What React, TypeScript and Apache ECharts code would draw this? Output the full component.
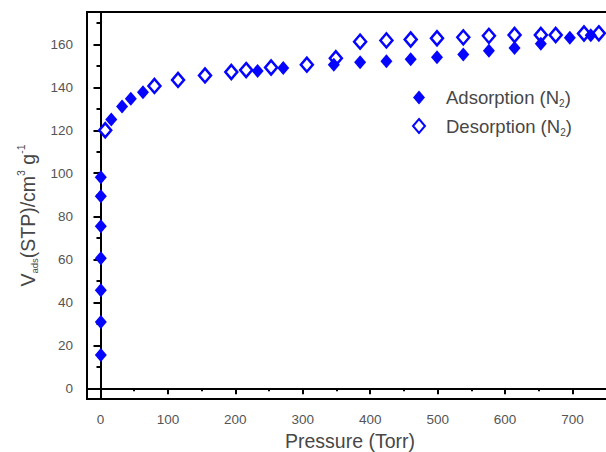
import React, { useEffect, useRef } from "react";
import * as echarts from "echarts";

const adsP = [0.5, 0.5, 0.5, 0.5, 0.5, 0.5, 0.5, 16, 32, 45, 63, 233, 271, 346, 385, 424, 460, 499, 538, 576, 614, 653, 696, 727];
const adsV = [15.5, 30.8, 45.6, 60.5, 75.3, 89.3, 98.1, 125, 131, 134.7, 137.7, 147.6, 148.9, 150.5, 151.6, 152.1, 153, 154, 155.2, 157, 158.3, 160.2, 163, 164.2];

const desP = [7, 80, 115, 155, 194, 216, 253, 306, 349, 385, 424, 460, 499, 538, 576, 614, 653, 675, 717, 739];
const desV = [120, 140.6, 143.4, 145.5, 147.1, 148, 149.2, 150.5, 153.5, 161.2, 161.8, 162.2, 162.8, 163.2, 163.9, 164.3, 164.3, 164.3, 165, 165.1];

const xMajor = [0, 100, 200, 300, 400, 500, 600, 700];
const xMinor = [50, 150, 250, 350, 450, 550, 650, 750];
const yMajor = [0, 20, 40, 60, 80, 100, 120, 140, 160];
const yMinor = [10, 30, 50, 70, 90, 110, 130, 150, 170];

const BLUE = "#0505ff";
const TEXT = "#474747";

export default function App() {
  const ref = useRef<HTMLDivElement>(null);
  useEffect(() => {
    if (!ref.current) return;
    const chart = echarts.init(ref.current, null, { renderer: "svg" });
    const xBase = { type: "value", min: -20, max: 760, splitLine: { show: false } };
    const yBase = { type: "value", min: -5, max: 175, splitLine: { show: false } };
    chart.setOption({
      animation: false,
      backgroundColor: "#fff",
      grid: {
        left: 87, right: -7, top: 12, bottom: 53,
        containLabel: false,
        outerBoundsMode: "none",
        show: true, borderColor: "#000", borderWidth: 2, backgroundColor: "transparent",
      },
      legend: {
        orient: "vertical",
        left: 407,
        top: 83,
        itemWidth: 12,
        itemHeight: 14,
        itemGap: 8,
        data: ["Adsorption (N2)", "Desorption (N2)"],
        formatter: (name: string) => "{a|" + name.replace("(N2)", "(N}{s|2}{a|)") + "}",
        textStyle: {
          color: TEXT,
          padding: [0, 0, 0, 16],
          rich: {
            a: { fontSize: 18.5, fontFamily: "Liberation Sans", color: TEXT, lineHeight: 22, verticalAlign: "middle" },
            s: { fontSize: 10, fontFamily: "Liberation Sans", color: TEXT, lineHeight: 10, verticalAlign: "bottom" },
          },
        },
      },
      xAxis: [
        {
          ...xBase,
          name: "Pressure (Torr)",
          nameLocation: "middle",
          nameGap: 30,
          nameTextStyle: { fontSize: 19.5, color: TEXT, fontFamily: "Liberation Sans" },
          axisLine: { show: true, lineStyle: { color: "#000", width: 2 } },
          axisTick: { show: true, inside: false, length: 6, lineStyle: { color: "#000", width: 2 }, customValues: xMajor },
          axisLabel: { show: true, customValues: xMajor, color: "#555", fontSize: 13.5, fontFamily: "Liberation Sans", margin: 13 },
        },
        {
          ...xBase,
          position: "bottom",
          axisLine: { show: false },
          axisTick: { show: true, inside: false, length: 3, lineStyle: { color: "#000", width: 2 }, customValues: xMinor },
          axisLabel: { show: false },
        },
      ],
      yAxis: [
        {
          ...yBase,
          name: "{m|V}{s|ads}{m|(STP)/cm}{p|3}{m| g}{p|-1}",
          nameLocation: "middle",
          nameRotate: 90,
          nameGap: 46,
          nameTextStyle: {
            color: TEXT,
            padding: [0, 20, 0, 0],
            rich: {
              m: { fontSize: 19.5, fontFamily: "Liberation Sans", color: TEXT, lineHeight: 24, verticalAlign: "middle" },
              s: { fontSize: 9.5, fontFamily: "Liberation Sans", color: TEXT, lineHeight: 9, verticalAlign: "bottom" },
              p: { fontSize: 10.5, fontFamily: "Liberation Sans", color: TEXT, lineHeight: 10, verticalAlign: "top" },
            },
          },
          axisLine: { show: true, lineStyle: { color: "#000", width: 2 } },
          axisTick: { show: true, inside: false, length: 7, lineStyle: { color: "#000", width: 2 }, customValues: yMajor },
          axisLabel: { show: true, customValues: yMajor, color: "#555", fontSize: 13.5, fontFamily: "Liberation Sans", margin: 14 },
        },
        {
          ...yBase,
          position: "left",
          axisLine: { show: false },
          axisTick: { show: true, inside: false, length: 4, lineStyle: { color: "#000", width: 2 }, customValues: yMinor },
          axisLabel: { show: false },
        },
      ],
      series: [
        {
          name: "Desorption (N2)",
          type: "scatter",
          symbol: "diamond",
          symbolSize: [12, 14],
          itemStyle: { color: "#fff", borderColor: BLUE, borderWidth: 2.5, opacity: 1 },
          data: desP.map((p, i) => [p, desV[i]]),
          clip: false,
        },
        {
          name: "Adsorption (N2)",
          type: "scatter",
          symbol: "diamond",
          symbolSize: [12, 14],
          itemStyle: { color: BLUE, opacity: 1 },
          data: adsP.map((p, i) => [p, adsV[i]]),
          clip: false,
        },
      ],
    });
    return () => chart.dispose();
  }, []);
  return <div ref={ref} style={{ position: "absolute", left: 0, top: 0, width: 606, height: 452 }} />;
}
